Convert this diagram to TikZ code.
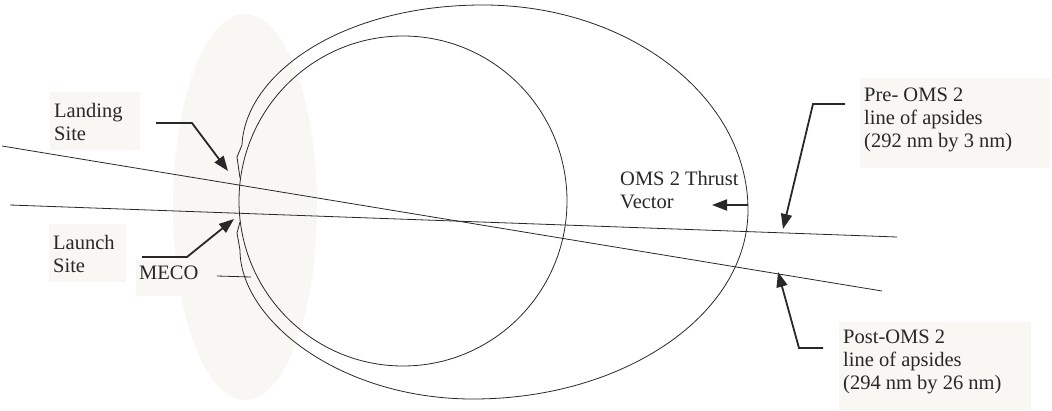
\documentclass[tikz,border=0pt]{standalone}
\usepackage{fontspec}
\setmainfont{Liberation Serif}
\usetikzlibrary{arrows.meta}
\definecolor{bgshade}{RGB}{248,247,244}
\definecolor{ink}{RGB}{40,40,40}
\begin{document}
\begin{tikzpicture}[x=1pt,y=-1pt,
  lbl/.style={font=\fontsize{20.5}{23}\selectfont, align=left, inner sep=0pt, anchor=west, text=ink},
  thinline/.style={draw=ink, line width=0.8pt},
  pointer/.style={draw=ink, line width=1.8pt, line join=miter, -{Triangle[length=15pt,width=11pt]}},
  labelbox/.style={fill=bgshade}]
\useasboundingbox (0,0) rectangle (1052,410);
% shaded earth region
\fill[bgshade] (245,207) ellipse [x radius=72, y radius=193];
% label backgrounds
\fill[labelbox] (50,92) rectangle (140,150);
\fill[labelbox] (49,224) rectangle (126,282);
\fill[labelbox] (136,260) rectangle (205,296);
\fill[labelbox] (860,78) rectangle (1050,168);
\fill[labelbox] (839,322) rectangle (1031,410);
% inner orbit
\draw[thinline] (403,201) ellipse [x radius=164, y radius=165];
% outer orbit
\draw[thinline, line join=miter] (240,178) -- (237,157) -- (242,145)
  .. controls (245,75) and (340,5) .. (483,5)
  .. controls (629,5) and (748,97) .. (748,210)
  .. controls (748,314) and (625,399) .. (473,399)
  .. controls (340,399) and (240,320) .. (240,250)
  -- (237,233) -- (240,222);
% lines of apsides
\coordinate (postA) at (2,146);
\coordinate (postB) at (882,291);
\coordinate (preA) at (10,205);
\coordinate (preB) at (897,237);
\draw[thinline] (postA) -- (postB);
\draw[thinline] (preA) -- (preB);
% labels
\node[lbl] (landing) at (54,121.5) {Landing\\Site};
\node[lbl] (launch) at (53,253.5) {Launch\\Site};
\node[lbl] (meco) at (139,273) {MECO};
\node[lbl] (thrust) at (620,190.5) {OMS 2 Thrust\\Vector};
\node[lbl] (pre) at (864,120) {Pre- OMS 2\\line of apsides\\(292 nm by 3 nm)};
\node[lbl] (post) at (843,361.5) {Post-OMS 2\\line of apsides\\(294 nm by 26 nm)};
% pointers
\coordinate (landS) at (156,123);
\coordinate (landK) at (192,123);
\coordinate (landT) at (228,171);
\draw[pointer] (landS) -- (landK) -- (landT);
\coordinate (lauS) at (142,257);
\coordinate (lauK) at (187,257);
\coordinate (lauT) at (234,219);
\draw[pointer] (lauS) -- (lauK) -- (lauT);
\coordinate (mecoS) at (217,276);
\coordinate (mecoE) at (251,277);
\draw[thinline] (mecoS) -- (mecoE);
\coordinate (thrS) at (748,205);
\coordinate (thrT) at (712,205);
\draw[pointer] (thrS) -- (thrT);
\coordinate (preS) at (845,104);
\coordinate (preK) at (813,104);
\coordinate (preT) at (783,229);
\draw[pointer] (preS) -- (preK) -- (preT);
\coordinate (postS) at (823,348);
\coordinate (postK) at (799,348);
\coordinate (postT) at (778,272);
\draw[pointer] (postS) -- (postK) -- (postT);
\end{tikzpicture}
\end{document}
